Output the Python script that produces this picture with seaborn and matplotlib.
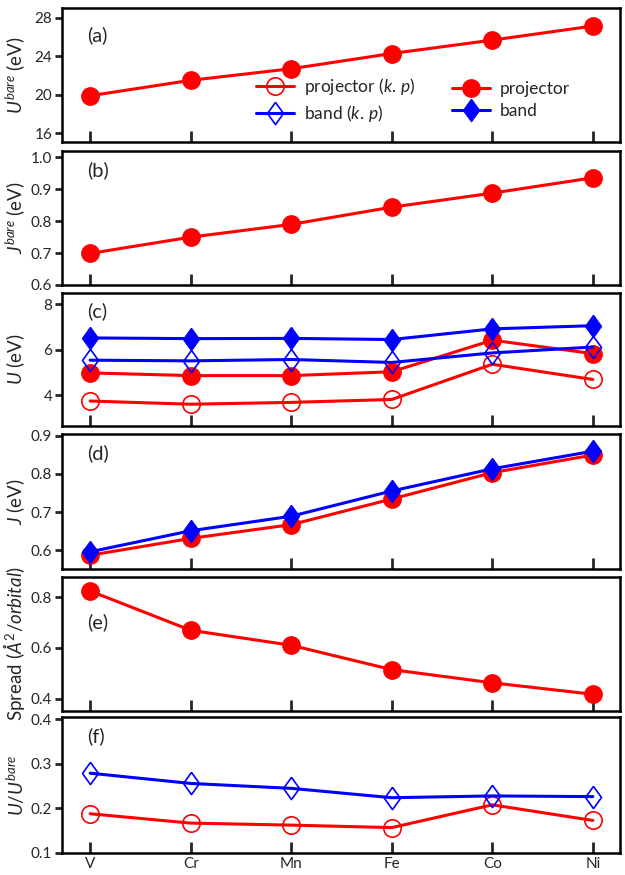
import numpy as np
import matplotlib
matplotlib.use('Agg')
import matplotlib.pyplot as plt
from matplotlib.lines import Line2D
import seaborn as sns

# ---------------- data ----------------
elements = ['V', 'Cr', 'Mn', 'Fe', 'Co', 'Ni']
u_bare = [19.9, 21.5, 22.7, 24.28, 25.67, 27.13]
j_bare = [0.699, 0.750, 0.790, 0.844, 0.888, 0.936]
u_proj_kp = [3.74, 3.60, 3.68, 3.81, 5.36, 4.69]
u_band_kp = [5.54, 5.51, 5.57, 5.44, 5.86, 6.12]
u_proj = [4.98, 4.86, 4.86, 5.03, 6.42, 5.83]
u_band = [6.52, 6.49, 6.50, 6.45, 6.92, 7.06]
j_proj = [0.587, 0.631, 0.667, 0.734, 0.803, 0.849]
j_band = [0.596, 0.651, 0.689, 0.755, 0.813, 0.859]
spread = [0.824, 0.669, 0.610, 0.514, 0.462, 0.417]
ratio_proj_kp = [0.188, 0.167, 0.1625, 0.157, 0.208, 0.173]
ratio_band_kp = [0.279, 0.256, 0.245, 0.224, 0.228, 0.2265]

# ---------------- style ----------------
sns.set_style('ticks')
plt.rcParams['font.family'] = ['Lato', 'DejaVu Sans']
plt.rcParams['mathtext.fontset'] = 'custom'
plt.rcParams['mathtext.rm'] = 'Lato'
plt.rcParams['mathtext.it'] = 'Lato:italic'
plt.rcParams['mathtext.bf'] = 'Lato:bold'

RED = '#ff0000'
BLUE = '#0000ff'
LW = 2.2
DIAMOND = [(0, 1), (0.72, 0), (0, -1), (-0.72, 0), (0, 1)]

styles = {
    'proj_kp': dict(color=RED, marker='o', markersize=12.5, markerfacecolor='none',
                    markeredgecolor=RED, markeredgewidth=1.2),
    'band_kp': dict(color=BLUE, marker=DIAMOND, markersize=16, markerfacecolor='none',
                    markeredgecolor=BLUE, markeredgewidth=1.2),
    'proj': dict(color=RED, marker='o', markersize=12.5, markerfacecolor=RED,
                 markeredgecolor=RED, markeredgewidth=1.0),
    'band': dict(color=BLUE, marker=DIAMOND, markersize=16, markerfacecolor=BLUE,
                 markeredgecolor=BLUE, markeredgewidth=1.0),
}

fig = plt.figure(figsize=(6.25, 8.75), dpi=100)
W, H = 625.0, 875.0
left_px, right_px = 62, 620
panels_px = [(8, 142), (151, 285), (293, 426), (434, 569), (577, 711), (717, 853)]

x = np.arange(len(elements))

panel_defs = [
    dict(tag='(a)', tag_y=0.80, ylabel=r'$U^{bare}$ (eV)', ylim=(15.1, 29.0), yticks=[16, 20, 24, 28],
         series=[('proj', u_bare)]),
    dict(tag='(b)', tag_y=0.86, ylabel=r'$J^{bare}$ (eV)', ylim=(0.6, 1.02), yticks=[0.6, 0.7, 0.8, 0.9, 1.0],
         series=[('proj', j_bare)]),
    dict(tag='(c)', tag_y=0.86, ylabel=r'$U$ (eV)', ylim=(2.64, 8.5), yticks=[4, 6, 8],
         series=[('proj_kp', u_proj_kp), ('proj', u_proj), ('band_kp', u_band_kp), ('band', u_band)]),
    dict(tag='(d)', tag_y=0.86, ylabel=r'$J$ (eV)', ylim=(0.551, 0.904), yticks=[0.6, 0.7, 0.8, 0.9],
         series=[('proj', j_proj), ('band', j_band)]),
    dict(tag='(e)', tag_y=0.66, ylabel=r'Spread ($\mathit{Å}^2/orbital$)', ylim=(0.351, 0.879),
         yticks=[0.4, 0.6, 0.8], series=[('proj', spread)]),
    dict(tag='(f)', tag_y=0.86, ylabel=r'$U/U^{bare}$', ylim=(0.1, 0.405), yticks=[0.1, 0.2, 0.3, 0.4],
         series=[('proj_kp', ratio_proj_kp), ('band_kp', ratio_band_kp)]),
]

axes = []
for i, (pdef, (top, bot)) in enumerate(zip(panel_defs, panels_px)):
    ax = fig.add_axes([left_px / W, 1 - bot / H, (right_px - left_px) / W, (bot - top) / H])
    axes.append(ax)
    for key, vals in pdef['series']:
        st = dict(styles[key])
        sns.lineplot(x=x, y=vals, ax=ax, linewidth=LW, legend=False, **st)
    ax.set_xlim(-0.28, 5.27)
    ax.set_ylim(*pdef['ylim'])
    ax.set_yticks(pdef['yticks'])
    ax.set_xticks(x)
    if i == len(panel_defs) - 1:
        ax.set_xticklabels(elements)
    else:
        ax.set_xticklabels([])
    ax.tick_params(axis='x', direction='in', length=8, width=2, labelsize=11, pad=3)
    ax.tick_params(axis='y', direction='out', length=5, width=2, labelsize=11, pad=2)
    for sp in ax.spines.values():
        sp.set_linewidth(1.8)
        sp.set_color('black')
    ax.set_ylabel(pdef['ylabel'], fontsize=13.5)
    ax.yaxis.set_label_coords(-0.062, 0.5)
    ax.text(0.045, pdef['tag_y'], pdef['tag'], transform=ax.transAxes, fontsize=14.5,
            va='center', ha='left')

# legend in panel (a): two columns placed separately
h_kp = [Line2D([], [], linewidth=LW, **styles['proj_kp']),
        Line2D([], [], linewidth=LW, **styles['band_kp'])]
h_full = [Line2D([], [], linewidth=LW, **styles['proj']),
          Line2D([], [], linewidth=LW, **styles['band'])]
leg_kw = dict(frameon=False, loc='center left', fontsize=12.5, handlelength=2.2,
              handletextpad=0.55, borderpad=0, borderaxespad=0, labelspacing=0.35)
leg1 = axes[0].legend(h_kp, [r'projector ($k.\,p$)', r'band ($k.\,p$)'],
                      bbox_to_anchor=(0.348, 0.31), **leg_kw)
axes[0].add_artist(leg1)
axes[0].legend(h_full, ['projector', 'band'], bbox_to_anchor=(0.699, 0.31), **leg_kw)

fig.savefig('out.png', dpi=100)
